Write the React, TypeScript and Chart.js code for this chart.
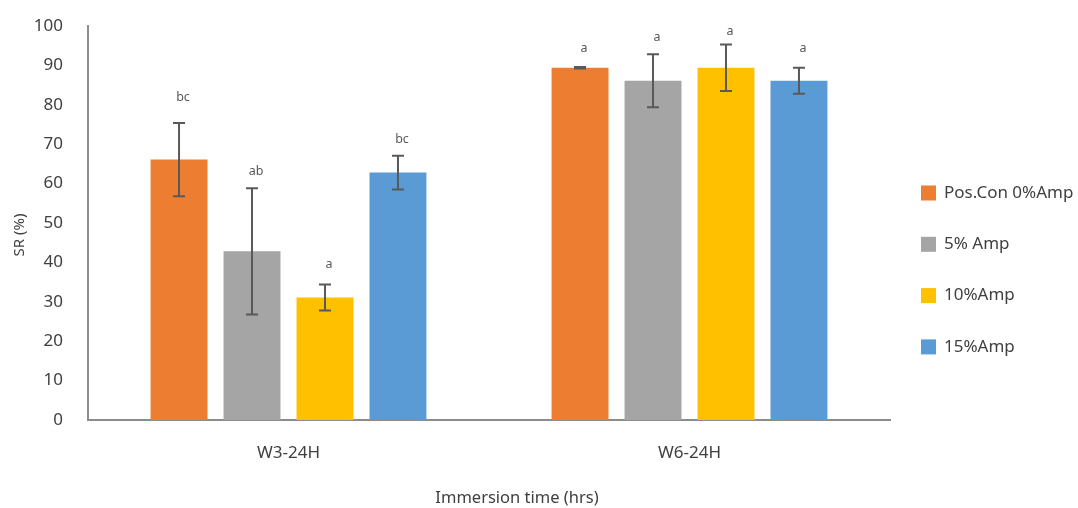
import React, { useEffect, useRef } from "react";
import { Chart, registerables } from "chart.js";

Chart.register(...registerables);

const categories = ["W3-24H", "W6-24H"];
const seriesNames = ["Pos.Con 0%Amp", "5% Amp", "10%Amp", "15%Amp"];
const seriesColors = ["#ED7D31", "#A5A5A5", "#FFC000", "#5B9BD5"];
const posCon = [66.1, 89.4];
const amp5 = [42.8, 86.1];
const amp10 = [31.1, 89.4];
const amp15 = [62.8, 86.1];
const errPosCon = [9.3, 0.2];
const errAmp5 = [16.0, 6.7];
const errAmp10 = [3.3, 5.9];
const errAmp15 = [4.3, 3.3];
const lettersPosCon = ["bc", "a"];
const lettersAmp5 = ["ab", "a"];
const lettersAmp10 = ["a", "a"];
const lettersAmp15 = ["bc", "a"];
const letterYPosCon = [81.8, 94.2];
const letterYAmp5 = [63.0, 97.0];
const letterYAmp10 = [39.5, 98.5];
const letterYAmp15 = [71.1, 94.2];
const yTicks = [0, 10, 20, 30, 40, 50, 60, 70, 80, 90, 100];

const values = [posCon, amp5, amp10, amp15];
const errors = [errPosCon, errAmp5, errAmp10, errAmp15];
const letters = [lettersPosCon, lettersAmp5, lettersAmp10, lettersAmp15];
const letterYs = [letterYPosCon, letterYAmp5, letterYAmp10, letterYAmp15];

const FONT = "'Noto Sans', sans-serif";
const TEXT = "#404040";

const overlay = {
  id: "overlay",
  afterDatasetsDraw(chart: any) {
    const ctx = chart.ctx;
    const y = chart.scales.y;
    const area = chart.chartArea;
    ctx.save();
    chart.data.datasets.forEach((ds: any, di: number) => {
      const meta = chart.getDatasetMeta(di);
      meta.data.forEach((bar: any, i: number) => {
        const v = values[di][i];
        const e = errors[di][i];
        const yTop = y.getPixelForValue(v + e);
        const yBot = y.getPixelForValue(v - e);
        const x = bar.x;
        ctx.strokeStyle = "#595959";
        ctx.lineWidth = 2;
        ctx.beginPath();
        ctx.moveTo(x, yTop);
        ctx.lineTo(x, yBot);
        ctx.moveTo(x - 6, yTop);
        ctx.lineTo(x + 6, yTop);
        ctx.moveTo(x - 6, yBot);
        ctx.lineTo(x + 6, yBot);
        ctx.stroke();
        ctx.fillStyle = "#595959";
        ctx.font = `12.5px ${FONT}`;
        ctx.textAlign = "center";
        ctx.textBaseline = "middle";
        ctx.fillText(letters[di][i], x + 4, y.getPixelForValue(letterYs[di][i]));
      });
    });
    ctx.fillStyle = TEXT;
    ctx.font = `16.5px ${FONT}`;
    ctx.textAlign = "center";
    ctx.textBaseline = "middle";
    ctx.fillText("Immersion time (hrs)", (area.left + area.right) / 2 + 28, area.bottom + 78);
    ctx.save();
    ctx.font = `15px ${FONT}`;
    ctx.translate(20, (area.top + area.bottom) / 2 + 12);
    ctx.rotate(-Math.PI / 2);
    ctx.fillText("SR (%)", 0, 0);
    ctx.restore();
    ctx.font = `17px ${FONT}`;
    ctx.textAlign = "left";
    seriesNames.forEach((name, i) => {
      const cy = area.top + 167 + i * 51.3;
      ctx.fillStyle = seriesColors[i];
      ctx.fillRect(area.right + 31, cy - 7.5, 15, 15);
      ctx.fillStyle = TEXT;
      ctx.fillText(name, area.right + 54, cy);
    });
    ctx.restore();
  },
};

export default function App() {
  const ref = useRef<HTMLCanvasElement | null>(null);
  useEffect(() => {
    document.body.style.margin = "0";
    document.body.style.overflow = "hidden";
    if (!ref.current) return;
    const chart = new Chart(ref.current, {
      type: "bar",
      data: {
        labels: categories,
        datasets: seriesNames.map((name, i) => ({
          label: name,
          data: values[i],
          backgroundColor: seriesColors[i],
          barPercentage: 0.78,
          categoryPercentage: 0.728,
        })),
      },
      options: {
        animation: false,
        responsive: true,
        maintainAspectRatio: false,
        layout: { padding: { top: 26, right: 188, left: 0, bottom: 0 } },
        plugins: { legend: { display: false }, tooltip: { enabled: false } },
        scales: {
          x: {
            grid: { display: false, drawTicks: false },
            border: { display: true, color: "#8c8c8c", width: 2 },
            ticks: { color: TEXT, font: { family: FONT, size: 17 }, padding: 23 },
            afterFit(scale: any) {
              scale.height = 88;
              scale.paddingLeft = 0;
              scale.paddingRight = 0;
              scale.paddingTop = 0;
              scale.paddingBottom = 0;
            },
          },
          y: {
            min: 0,
            max: 100,
            grid: { display: false, drawTicks: false },
            border: { display: true, color: "#8c8c8c", width: 2 },
            afterBuildTicks(scale: any) {
              scale.ticks = yTicks.map((v) => ({ value: v }));
            },
            ticks: { color: TEXT, font: { family: FONT, size: 17 }, padding: 25 },
            afterFit(scale: any) {
              scale.width = 88;
              scale.paddingLeft = 0;
              scale.paddingRight = 0;
              scale.paddingTop = 0;
              scale.paddingBottom = 0;
            },
          },
        },
      },
      plugins: [overlay],
    });
    return () => chart.destroy();
  }, []);
  return (
    <div style={{ position: "relative", width: 1078, height: 508 }}>
      <canvas ref={ref} />
    </div>
  );
}
